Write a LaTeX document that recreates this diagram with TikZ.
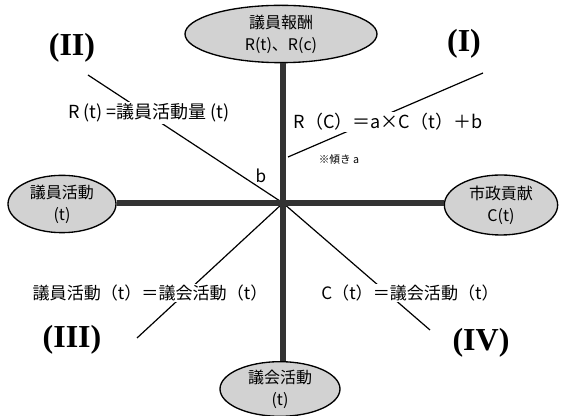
\documentclass[tikz,border=0pt]{standalone}
\usepackage{fontspec}
\setmainfont{Liberation Serif}
\newfontfamily\jp{Noto Sans CJK JP}
\usetikzlibrary{shapes.geometric}
\begin{document}
\begin{tikzpicture}[x=0.75pt,y=-0.75pt,
  oval/.style={ellipse,draw=black,line width=1pt,fill=gray!35,inner sep=0pt,align=center,
    font=\jp\fontsize{12}{16.5}\selectfont},
  axis/.style={line width=4.5pt,draw=black!80},
  diag/.style={line width=0.9pt,draw=black},
  lbl/.style={font=\jp\fontsize{12.8}{14}\selectfont,fill=white,inner sep=1pt},
  small/.style={font=\jp\fontsize{8}{9}\selectfont,inner sep=0pt},
  roman/.style={font=\bfseries\fontsize{24}{28}\selectfont,inner sep=0pt}]
\useasboundingbox (0,0) rectangle (562,416);
% ellipses
\node[oval,minimum width=144pt,minimum height=43pt] (top) at (281,34) {議員報酬\\R(t)、R(c)};
\node[oval,minimum width=81pt,minimum height=43pt] (left) at (62,204) {議員活動\\(t)};
\node[oval,minimum width=85pt,minimum height=45pt] (right) at (501,205) {市政貢献\\C(t)};
\node[oval,minimum width=90pt,minimum height=40pt] (bottom) at (280,389) {議会活動\\(t)};
\coordinate (c) at (283,203);
% diagonal lines
\coordinate (d2) at (88,75);
\coordinate (d3) at (137,338);
\coordinate (d4) at (430,330);
\coordinate (d1a) at (288,157);
\coordinate (d1b) at (483,73);
\draw[diag] (d2) -- (c);
\draw[diag] (d3) -- (c);
\draw[diag] (c) -- (d4);
\draw[diag] (d1a) -- (d1b);
% axes
\draw[axis] (top.south -| c) -- (bottom.north -| c);
\draw[axis] (left.east |- c) -- (right.west |- c);
% labels
\node[lbl,font=\jp\fontsize{13.5}{15}\selectfont] (l2) at (149,113) {R (t) =議員活動量 (t)};
\node[lbl,font=\jp\fontsize{13.5}{15}\selectfont] (l1) at (388,122) {R（C）＝a×C（t）＋b};
\node[small] (slope) at (339,160) {※傾き a};
\node[lbl,fill=none] (b) at (261,176) {b};
\node[lbl] (l3) at (150,293) {議員活動（t）＝議会活動（t）};
\node[lbl] (l4) at (410,293) {C（t）＝議会活動（t）};
% roman numerals
\node[roman] (r2) at (72,48) {(II)};
\node[roman] (r1) at (464,44) {(I)};
\node[roman] (r3) at (72,340) {(III)};
\node[roman] (r4) at (481,343) {(IV)};
\end{tikzpicture}
\end{document}
